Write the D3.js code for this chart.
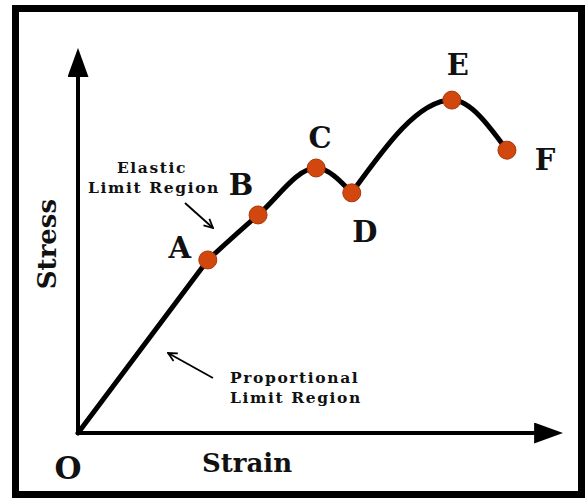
<!DOCTYPE html>
<html>
<head>
<meta charset="utf-8">
<script src="https://cdnjs.cloudflare.com/ajax/libs/d3/7.8.5/d3.min.js"></script>
<style>
body { margin: 0; background: #fff; }
svg text { font-family: "DejaVu Serif", serif; font-weight: bold; fill: #111; }
</style>
</head>
<body>
<svg id="chart" width="587" height="500"></svg>
<script>
// points on the stress-strain curve (strain, stress) in arbitrary units
var point_names = ["A", "B", "C", "D", "E", "F"];
var strain = [26.6, 36.9, 48.8, 56.1, 76.6, 87.9];
var stress = [44.6, 56.2, 68.3, 61.9, 85.8, 72.9];
var origin = [0, 0];

var svg = d3.select("#chart"),
    margin = {top: 45, right: 21, bottom: 67, left: 78},
    width = +svg.attr("width") - margin.left - margin.right,
    height = +svg.attr("height") - margin.top - margin.bottom;

var x = d3.scaleLinear().domain([0, 100]).range([0, width]);
var y = d3.scaleLinear().domain([0, 100]).range([height, 0]);

// frame
svg.append("rect")
    .attr("x", 15.5).attr("y", 8.5)
    .attr("width", 566).attr("height", 486)
    .attr("fill", "none").attr("stroke", "#000").attr("stroke-width", 7);

var g = svg.append("g").attr("transform", "translate(" + margin.left + "," + margin.top + ")");

var defs = svg.append("defs");
defs.append("marker")
    .attr("id", "axisHead")
    .attr("viewBox", "0 0 10 10")
    .attr("preserveAspectRatio", "none")
    .attr("refX", 1).attr("refY", 5)
    .attr("markerUnits", "userSpaceOnUse")
    .attr("markerWidth", 29).attr("markerHeight", 21)
    .attr("orient", "auto")
    .append("path").attr("d", "M0,0 L10,5 L0,10 Z").attr("fill", "#000");
defs.append("marker")
    .attr("id", "openHead")
    .attr("viewBox", "0 0 10 10")
    .attr("refX", 9).attr("refY", 5)
    .attr("markerUnits", "userSpaceOnUse")
    .attr("markerWidth", 11).attr("markerHeight", 11)
    .attr("orient", "auto")
    .append("path").attr("d", "M1,1 L9,5 L1,9").attr("fill", "none")
    .attr("stroke", "#000").attr("stroke-width", 1.6);

// axes
g.append("line")
    .attr("x1", x(0)).attr("y1", y(0) + 2)
    .attr("x2", x(0)).attr("y2", y(100) + 29)
    .attr("stroke", "#000").attr("stroke-width", 4)
    .attr("marker-end", "url(#axisHead)");
g.append("line")
    .attr("x1", x(0) - 2).attr("y1", y(0))
    .attr("x2", x(100) - 29).attr("y2", y(0))
    .attr("stroke", "#000").attr("stroke-width", 4)
    .attr("marker-end", "url(#axisHead)");

// proportional (straight) part
g.append("line")
    .attr("x1", x(origin[0])).attr("y1", y(origin[1]))
    .attr("x2", x(strain[0])).attr("y2", y(stress[0]))
    .attr("stroke", "#000").attr("stroke-width", 5).attr("stroke-linecap", "round");

// curved part, split at D where the curve turns sharply
var pts = strain.map(function(d, i){ return [d, stress[i]]; });
var line = d3.line()
    .x(function(d){ return x(d[0]); })
    .y(function(d){ return y(d[1]); })
    .curve(d3.curveMonotoneX);
[pts.slice(0, 4), pts.slice(3)].forEach(function(seg){
    g.append("path")
        .datum(seg)
        .attr("d", line)
        .attr("fill", "none").attr("stroke", "#000").attr("stroke-width", 5)
        .attr("stroke-linecap", "round").attr("stroke-linejoin", "round");
});

g.selectAll(".dot")
    .data(pts)
    .enter().append("circle")
    .attr("class", "dot")
    .attr("cx", function(d){ return x(d[0]); })
    .attr("cy", function(d){ return y(d[1]); })
    .attr("r", 9)
    .attr("fill", "#d2470e").attr("stroke", "#a8360a").attr("stroke-width", 1);

// letter labels
var offsets = [[-28, -2], [-17, -20], [4, -20], [13, 49], [6, -25], [38, 20]];
g.selectAll(".lbl")
    .data(pts)
    .enter().append("text")
    .attr("class", "lbl")
    .attr("x", function(d, i){ return x(d[0]) + offsets[i][0]; })
    .attr("y", function(d, i){ return y(d[1]) + offsets[i][1]; })
    .attr("text-anchor", "middle")
    .attr("font-size", 29)
    .text(function(d, i){ return point_names[i]; });

g.append("text").attr("x", x(0) - 10).attr("y", y(0) + 46)
    .attr("text-anchor", "middle").attr("font-size", 31).text("O");

// axis titles
g.append("text").attr("x", 169).attr("y", y(0) + 39)
    .attr("text-anchor", "middle").attr("font-size", 26).text("Strain");
g.append("text")
    .attr("transform", "translate(-22,199) rotate(-90)")
    .attr("text-anchor", "middle").attr("font-size", 26).text("Stress");

// region notes
var note = function(tx, ty, anchor, s){
    g.append("text").attr("x", tx).attr("y", ty).attr("text-anchor", anchor)
        .attr("font-size", 15.5).attr("letter-spacing", 1.6).text(s);
};
note(74, 128, "middle", "Elastic");
note(76, 148, "middle", "Limit Region");
g.append("line").attr("x1", 107).attr("y1", 158).attr("x2", 135).attr("y2", 183)
    .attr("stroke", "#000").attr("stroke-width", 1.8).attr("marker-end", "url(#openHead)");

note(152, 338, "start", "Proportional");
note(152, 358, "start", "Limit Region");
g.append("line").attr("x1", 135).attr("y1", 333).attr("x2", 90).attr("y2", 308)
    .attr("stroke", "#000").attr("stroke-width", 1.8).attr("marker-end", "url(#openHead)");
</script>
</body>
</html>
